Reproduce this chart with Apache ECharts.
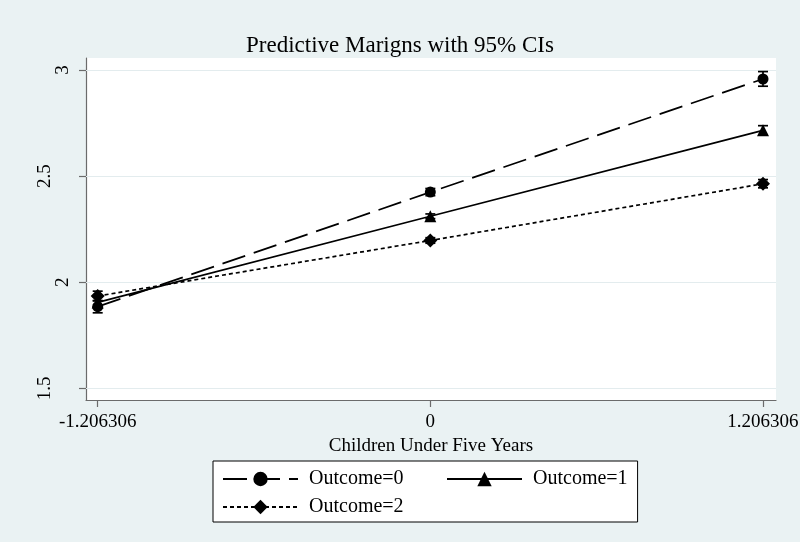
<!DOCTYPE html>
<html>
<head>
<meta charset="utf-8">
<script src="https://cdn.jsdelivr.net/npm/echarts@6/dist/echarts.min.js"></script>
<style>
  html, body { margin: 0; padding: 0; background: #eaf2f3; }
  #chart { width: 800px; height: 542px; }
</style>
</head>
<body>
<div id="chart"></div>
<script>
// Predictive margins at three levels of the (standardised) predictor
const xLevels = [-1.206306, 0, 1.206306];
const xTickLabels = ['-1.206306', '0', '1.206306'];
const yTicks = [1.5, 2, 2.5, 3];
const yTickLabels = ['1.5', '2', '2.5', '3'];
const seriesNames = ['Outcome=0', 'Outcome=1', 'Outcome=2'];

// Outcome=0
const margin0 = [1.885, 2.425, 2.958];
const lower0  = [1.856, 2.408, 2.924];
const upper0  = [1.914, 2.442, 2.993];
// Outcome=1
const margin1 = [1.905, 2.311, 2.716];
const lower1  = [1.880, 2.300, 2.695];
const upper1  = [1.930, 2.322, 2.738];
// Outcome=2
const margin2 = [1.935, 2.197, 2.464];
const lower2  = [1.912, 2.184, 2.445];
const upper2  = [1.958, 2.210, 2.484];

const FONT = "'Liberation Serif', 'Times New Roman', serif";
const AXIS_GRAY = '#6b6b6b';

const points = (ys) => xLevels.map((x, i) => [x, ys[i]]);
const intervals = (lo, hi) => xLevels.map((x, i) => [x, lo[i], hi[i]]);

function renderCI(params, api) {
  const x = api.value(0);
  const pLo = api.coord([x, api.value(1)]);
  const pHi = api.coord([x, api.value(2)]);
  const half = 5;
  const style = { stroke: '#000', lineWidth: 1.7 };
  return {
    type: 'group',
    children: [
      { type: 'line', shape: { x1: pLo[0], y1: pLo[1], x2: pHi[0], y2: pHi[1] }, style },
      { type: 'line', shape: { x1: pLo[0] - half, y1: pLo[1], x2: pLo[0] + half, y2: pLo[1] }, style },
      { type: 'line', shape: { x1: pHi[0] - half, y1: pHi[1], x2: pHi[0] + half, y2: pHi[1] }, style }
    ]
  };
}

const ciSeries = (name, lo, hi) => ({
  name,
  type: 'custom',
  renderItem: renderCI,
  data: intervals(lo, hi),
  encode: { x: 0, y: [1, 2] },
  z: 3,
  silent: true
});

const lineSeries = (name, ys, symbol, size, dash) => ({
  name,
  type: 'line',
  data: points(ys),
  symbol,
  symbolSize: size,
  showSymbol: true,
  lineStyle: { color: '#000', width: 1.7, type: dash },
  itemStyle: { color: '#000' },
  z: 4
});

const chart = echarts.init(document.getElementById('chart'), null, { renderer: 'canvas' });

const s0 = lineSeries(seriesNames[0], margin0, 'circle', 11, [24, 9]);
// horizontal grid lines at the labelled y values
s0.markLine = {
  silent: true,
  symbol: ['none', 'none'],
  z: 1,
  label: { show: false },
  lineStyle: { color: '#e3ecee', type: 'solid', width: 1 },
  data: yTicks.map(v => ({ yAxis: v }))
};

chart.setOption({
  animation: false,
  backgroundColor: '#eaf2f3',
  title: {
    text: 'Predictive Marigns with 95% CIs',
    left: 'center',
    top: 29,
    textStyle: { fontFamily: FONT, fontSize: 23, fontWeight: 'normal', color: '#000' }
  },
  grid: {
    left: 86, right: 24, top: 58, bottom: 142,
    show: true, backgroundColor: '#fff', borderWidth: 0,
    containLabel: false, outerBoundsMode: 'none'
  },
  legend: {
    left: 213, top: 461, width: 420,
    orient: 'horizontal',
    itemWidth: 75, itemHeight: 18, itemGap: 8,
    padding: [8, 10, 5, 9],
    backgroundColor: '#fff', borderColor: '#000', borderWidth: 1, borderRadius: 0,
    textStyle: { fontFamily: FONT, fontSize: 20, color: '#000', lineHeight: 20, padding: [0, 0, 0, 6] },
    data: [
      { name: seriesNames[0], textStyle: { width: 129 } },
      { name: seriesNames[1] },
      { name: seriesNames[2], textStyle: { width: 129 } }
    ]
  },
  xAxis: {
    type: 'value',
    min: -1.2487, max: 1.2535,
    name: 'Children Under Five Years',
    nameLocation: 'middle',
    nameGap: 31,
    nameTextStyle: { fontFamily: FONT, fontSize: 19, color: '#000' },
    axisLine: { onZero: false, lineStyle: { color: AXIS_GRAY, width: 1.2 } },
    axisTick: { customValues: xLevels, length: 7, lineStyle: { color: AXIS_GRAY, width: 1.2 } },
    axisLabel: {
      customValues: xLevels,
      margin: 13,
      fontFamily: FONT, fontSize: 19, color: '#000',
      formatter: (v) => {
        const i = xLevels.findIndex(t => Math.abs(t - v) < 1e-9);
        return i >= 0 ? xTickLabels[i] : '';
      }
    },
    splitLine: { show: false }
  },
  yAxis: {
    type: 'value',
    min: 1.445, max: 3.057,
    axisLine: { show: true, onZero: false, lineStyle: { color: AXIS_GRAY, width: 1.2 } },
    axisTick: { show: true, customValues: yTicks, length: 7, lineStyle: { color: AXIS_GRAY, width: 1.2 } },
    axisLabel: {
      customValues: yTicks,
      rotate: 90,
      margin: 13,
      fontFamily: FONT, fontSize: 19, color: '#000',
      formatter: (v) => {
        const i = yTicks.findIndex(t => Math.abs(t - v) < 1e-9);
        if (i < 0) return '';
        const s = yTickLabels[i];
        return s.length > 1 ? '{w|' + s + '}' : '{n|' + s + '}';
      },
      rich: {
        w: { fontFamily: FONT, fontSize: 19, color: '#000', padding: [0, 0, 18, 0] },
        n: { fontFamily: FONT, fontSize: 19, color: '#000' }
      }
    },
    splitLine: { show: false }
  },
  series: [
    ciSeries('ci0', lower0, upper0),
    ciSeries('ci1', lower1, upper1),
    ciSeries('ci2', lower2, upper2),
    s0,
    lineSeries(seriesNames[1], margin1, 'triangle', 12, 'solid'),
    lineSeries(seriesNames[2], margin2, 'diamond', 14, [4, 3])
  ]
});
</script>
</body>
</html>
